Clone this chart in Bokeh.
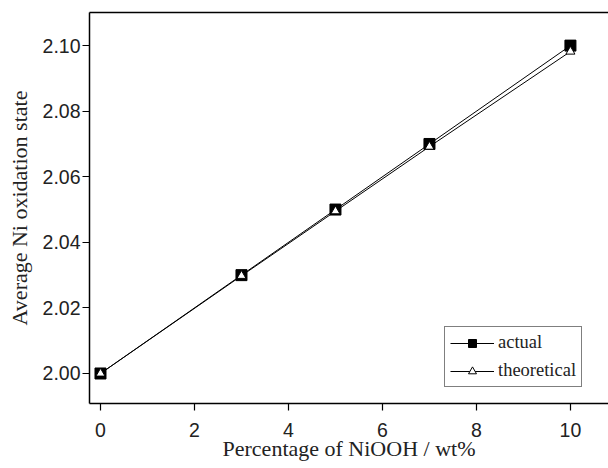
from bokeh.plotting import figure
from bokeh.models import LinearAxis, FixedTicker, Legend, LegendItem, Range1d
from bokeh.embed import file_html
from bokeh.resources import INLINE

# Data
wt_percent = [0, 3, 5, 7, 10]
actual = [2.000, 2.030, 2.050, 2.070, 2.100]
theoretical = [2.000, 2.0298, 2.0495, 2.0692, 2.0982]
x_ticks = [0, 2, 4, 6, 8, 10]
y_ticks = [2.00, 2.02, 2.04, 2.06, 2.08, 2.10]

p = figure(
    output_backend="svg", toolbar_location=None,
    frame_width=519, frame_height=391,
    min_border_left=89, min_border_right=0, min_border_top=12, min_border_bottom=65,
    x_range=Range1d(-0.234, 10.81), y_range=Range1d(1.99085, 2.1101),
    background_fill_color="white", border_fill_color="white",
)
p.outline_line_color = None
p.grid.visible = False

for ax in (p.xaxis[0], p.yaxis[0]):
    ax.axis_line_width = 1.5
    ax.axis_line_color = "black"
    ax.major_tick_line_color = "black"
    ax.major_tick_line_width = 1.2
    ax.major_tick_out = 7
    ax.major_tick_in = 0
    ax.minor_tick_line_color = None
    ax.major_label_text_font = "Liberation Sans"
    ax.major_label_text_font_size = "19.5px"
    ax.major_label_text_color = "#222222"
    ax.axis_label_text_font = "Liberation Serif"
    ax.axis_label_text_font_size = "22px"
    ax.axis_label_text_font_style = "normal"
    ax.axis_label_text_color = "#222222"

p.xaxis.ticker = FixedTicker(ticks=x_ticks)
p.yaxis.ticker = FixedTicker(ticks=y_ticks)
p.yaxis.major_label_overrides = {t: f"{t:.2f}" for t in y_ticks}
p.xaxis.axis_label = "Percentage of NiOOH / wt%"
p.yaxis.axis_label = "Average Ni oxidation state"
p.xaxis.major_label_standoff = 12
p.xaxis.axis_label_standoff = -4
p.yaxis.major_label_standoff = 2
p.yaxis.axis_label_standoff = 8

top = LinearAxis(ticker=FixedTicker(ticks=[]), axis_line_width=1.5, axis_line_color="black",
                 major_tick_line_color=None, minor_tick_line_color=None,
                 major_label_text_font_size="0px")
p.add_layout(top, "above")

l1 = p.line(wt_percent, actual, line_color="black", line_width=1)
l2 = p.line(wt_percent, theoretical, line_color="black", line_width=1)
s1 = p.scatter(wt_percent, actual, marker="square", size=11, fill_color="black", line_color="black")
s2 = p.scatter(wt_percent, theoretical, marker="triangle", size=9, fill_color="white",
               line_color="black", line_width=1)

legend = Legend(items=[LegendItem(label="actual", renderers=[l1, s1]),
                       LegendItem(label="theoretical", renderers=[l2, s2])],
                location=(355, 16))
legend.label_text_font = "Liberation Serif"
legend.label_text_font_size = "18.5px"
legend.label_text_color = "#222222"
legend.glyph_width = 44
legend.glyph_height = 20
legend.label_standoff = 4
legend.padding = 5
legend.spacing = 7
legend.margin = 0
legend.border_line_color = "black"
legend.border_line_width = 1
legend.background_fill_alpha = 1
p.add_layout(legend, "center")

open("out.html", "w").write(file_html(p, INLINE))
